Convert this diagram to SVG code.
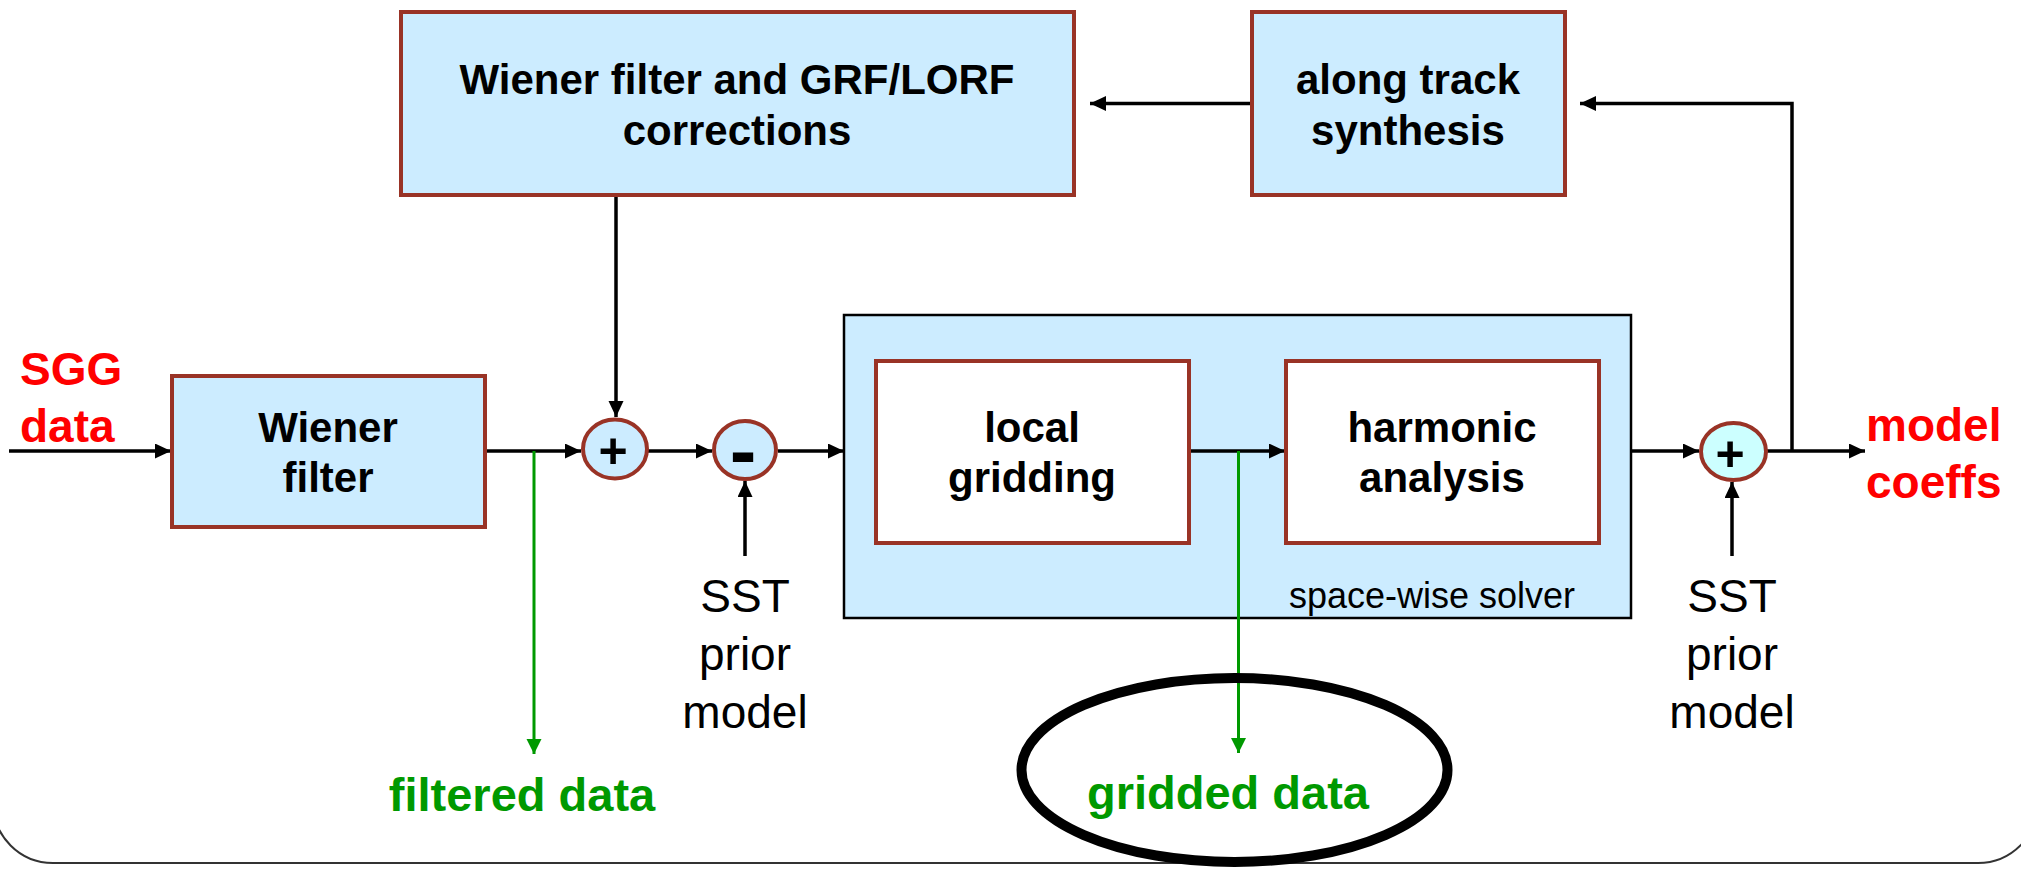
<svg xmlns="http://www.w3.org/2000/svg" width="2021" height="869" viewBox="0 0 2021 869">
<style>
.box{fill:#CCECFF;stroke:#993326;stroke-width:4}
.wbox{fill:#FFFFFF;stroke:#993326;stroke-width:4}
.sum{fill:#CCECFF;stroke:#993326;stroke-width:4}
.b{font-family:"Liberation Sans",Arial,sans-serif;font-weight:bold;font-size:42px;fill:#000;text-anchor:middle}
.r{font-family:"Liberation Sans",Arial,sans-serif;font-size:46px;fill:#000;text-anchor:middle}
.red{font-family:"Liberation Sans",Arial,sans-serif;font-weight:bold;font-size:46px;fill:#FF0000}
.grn{font-family:"Liberation Sans",Arial,sans-serif;font-weight:bold;font-size:47px;fill:#009900;text-anchor:middle}
.pl{font-family:"Liberation Sans",Arial,sans-serif;font-weight:bold;font-size:50px;fill:#000;text-anchor:middle}
.ln{fill:none;stroke:#000;stroke-width:3.5}
.gl{fill:none;stroke:#009900;stroke-width:3}
</style>
<defs>
<marker id="ah" markerUnits="userSpaceOnUse" markerWidth="17" markerHeight="16" refX="16" refY="7.5" orient="auto"><path d="M0,0 L16,7.5 L0,15 z" fill="#000"/></marker>
<marker id="gh" markerUnits="userSpaceOnUse" markerWidth="16" markerHeight="16" refX="15" refY="7.5" orient="auto"><path d="M0,0 L15,7.5 L0,15 z" fill="#009900"/></marker>
</defs>
<rect width="2021" height="869" fill="#FFFFFF"/>
<path id="frame" d="M-7,-20 L-7,803 A60,60 0 0 0 53,863 L1978,863 A60,60 0 0 0 2038,803 L2038,-20" fill="none" stroke="#333" stroke-width="2"/>

<g id="solver">
<rect x="844" y="315" width="787" height="303" fill="#CCECFF" stroke="#000" stroke-width="2.5"/>
<text x="1289" y="608" font-family="'Liberation Sans',Arial,sans-serif" font-size="36px">space-wise solver</text>
</g>

<g id="connectors">
<line class="ln" x1="9" y1="451" x2="171" y2="451" marker-end="url(#ah)"/>
<line class="ln" x1="485" y1="451" x2="581" y2="451" marker-end="url(#ah)"/>
<line class="ln" x1="616" y1="196" x2="616" y2="417" marker-end="url(#ah)"/>
<line class="ln" x1="648" y1="451" x2="712" y2="451" marker-end="url(#ah)"/>
<line class="ln" x1="745" y1="556" x2="745" y2="481" marker-end="url(#ah)"/>
<line class="ln" x1="778" y1="451" x2="844" y2="451" marker-end="url(#ah)"/>
<line class="ln" x1="1189" y1="451" x2="1285" y2="451" marker-end="url(#ah)"/>
<line class="ln" x1="1631" y1="451" x2="1699" y2="451" marker-end="url(#ah)"/>
<line class="ln" x1="1732" y1="556" x2="1732" y2="482" marker-end="url(#ah)"/>
<line class="ln" x1="1767" y1="451" x2="1865" y2="451" marker-end="url(#ah)"/>
<path class="ln" d="M1792,451 L1792,103.5 L1580,103.5" stroke-width="4.5" marker-end="url(#ah)"/>
<line class="ln" x1="1252" y1="103.5" x2="1090" y2="103.5" stroke-width="4" marker-end="url(#ah)"/>
<line class="gl" x1="534" y1="451" x2="534" y2="754" marker-end="url(#gh)"/>
<line class="gl" x1="1238.5" y1="451" x2="1238.5" y2="753" marker-end="url(#gh)"/>
</g>

<g id="wiener-grf">
<rect class="box" x="401" y="12" width="673" height="183"/>
<text class="b" x="737" y="94">Wiener filter and GRF/LORF</text>
<text class="b" x="737" y="145">corrections</text>
</g>

<g id="along-track">
<rect class="box" x="1252" y="12" width="313" height="183"/>
<text class="b" x="1408" y="94">along track</text>
<text class="b" x="1408" y="145">synthesis</text>
</g>

<g id="wiener">
<rect class="box" x="172" y="376" width="313" height="151"/>
<text class="b" x="328" y="441.5">Wiener</text>
<text class="b" x="328" y="492">filter</text>
</g>

<g id="local-gridding">
<rect class="wbox" x="876" y="361" width="313" height="182"/>
<text class="b" x="1032" y="441.5">local</text>
<text class="b" x="1032" y="492">gridding</text>
</g>

<g id="harmonic">
<rect class="wbox" x="1286" y="361" width="313" height="182"/>
<text class="b" x="1442" y="441.5">harmonic</text>
<text class="b" x="1442" y="492">analysis</text>
</g>

<g id="sum1">
<ellipse class="sum" cx="615" cy="449" rx="32" ry="29.5"/>
<text class="pl" x="613" y="468">+</text>
</g>

<g id="sum2">
<ellipse class="sum" cx="745" cy="450" rx="31" ry="29"/>
<text x="743" y="478" font-family="'Liberation Sans',Arial,sans-serif" font-weight="bold" font-size="80px" text-anchor="middle">-</text>
</g>

<g id="sum3">
<ellipse cx="1733.5" cy="451.5" rx="32.5" ry="28.5" fill="#CCFFFF" stroke="#993326" stroke-width="4"/>
<text class="pl" x="1730" y="471">+</text>
</g>

<g id="sgg-data">
<text class="red" x="20" y="385">SGG</text>
<text class="red" x="20" y="442">data</text>
</g>

<g id="model-coeffs">
<text class="red" x="1866" y="441">model</text>
<text class="red" x="1866" y="498">coeffs</text>
</g>

<g id="sst1">
<text class="r" x="745" y="612">SST</text>
<text class="r" x="745" y="670">prior</text>
<text class="r" x="745" y="727.5">model</text>
</g>

<g id="sst2">
<text class="r" x="1732" y="612">SST</text>
<text class="r" x="1732" y="670">prior</text>
<text class="r" x="1732" y="727.5">model</text>
</g>

<g id="filtered-data">
<text class="grn" x="522" y="811">filtered data</text>
</g>

<g id="gridded-data">
<ellipse cx="1234.5" cy="770" rx="213" ry="92" fill="none" stroke="#000" stroke-width="10"/>
<text class="grn" x="1228" y="809">gridded data</text>
</g>
</svg>
